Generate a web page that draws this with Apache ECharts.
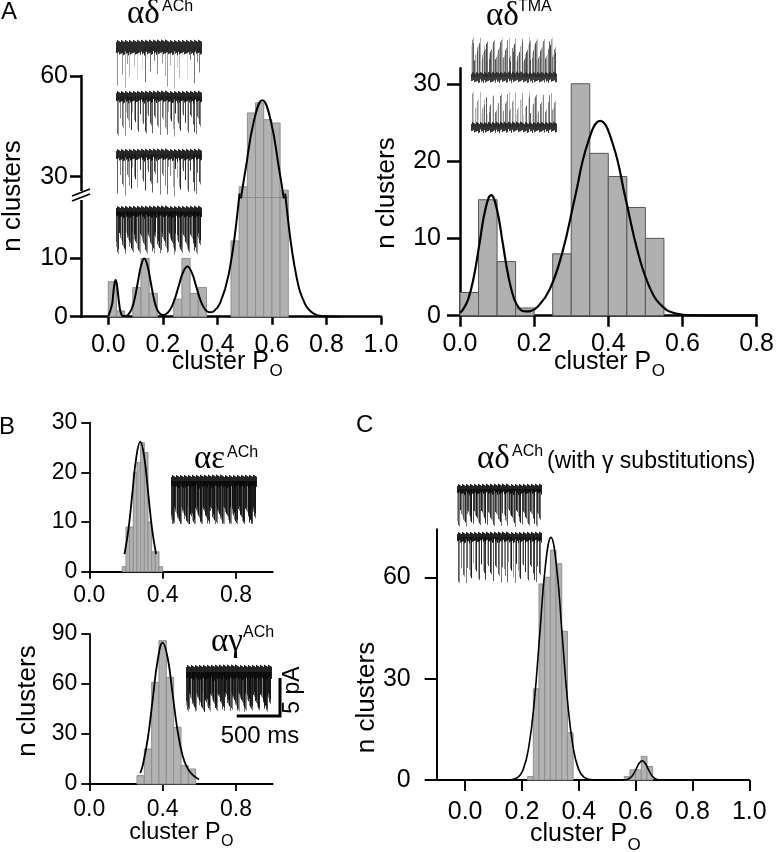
<!DOCTYPE html>
<html><head><meta charset="utf-8">
<script src="https://cdn.jsdelivr.net/npm/echarts@6/dist/echarts.min.js"></script>
<style>html,body{margin:0;padding:0;background:#fff}#c{width:777px;height:852px}</style>
</head><body><div id="c"></div>
<script>
// ===================== DATA =====================
// Panel A left: alpha-delta, ACh (bin width 0.03)
const aLeftBinStarts = [0.00,0.03,0.09,0.12,0.15,0.24,0.27,0.30,0.33,0.45,0.48,0.51,0.54,0.57,0.60,0.63];
const aLeftCounts    = [6,1,5,10,4,3,10,4,5,13,27,49,52,47,46,26];
const aLeftBinWidth  = 0.03;
const aLeftFitX = [0.000,0.0135,0.018,0.0225,0.027,0.0315,0.036,0.0405,0.045,0.054,0.063,0.0745,0.086,0.0975,0.109,0.1205,0.132,0.1435,0.155,0.1665,0.178,0.1895,0.201,0.21,0.226,0.242,0.258,0.274,0.29,0.306,0.322,0.338,0.354,0.372,0.386,0.41,0.441,0.472,0.503,0.534,0.565,0.596,0.627,0.658,0.689,0.72,0.751,0.79,0.85];
const aLeftFitY = [0.07,2.05,3.82,5.56,6.3,5.56,3.82,2.05,0.85,0.12,0.12,0.44,1.35,3.25,6.07,8.83,10.0,8.83,6.07,3.25,1.35,0.5,0.29,0.41,1.16,2.79,5.22,7.59,8.6,7.59,5.25,2.85,1.32,0.75,0.9,2.32,7.14,17.14,32.0,46.6,52.8,46.6,32.0,17.14,7.14,2.32,0.59,0.07,0];
const aLeftXTicks = [0.0,0.2,0.4,0.6,0.8,1.0];
const aLeftYTicksLow = [0,10];
const aLeftYTicksHigh = [30,60];

// Panel A right: alpha-delta, TMA (bin width 0.05)
const aRightBinStarts = [0.00,0.05,0.10,0.15,0.20,0.25,0.30,0.35,0.40,0.45,0.50];
const aRightCounts    = [3,15,7,1,0,8,30,21,18,14,10];
const aRightBinWidth  = 0.05;
const aRightFitX = [0.000,0.0065,0.022,0.0375,0.053,0.0685,0.084,0.0995,0.115,0.1305,0.146,0.1615,0.177,0.19,0.21,0.242,0.276,0.31,0.344,0.378,0.412,0.446,0.48,0.514,0.548,0.582,0.63,0.7,0.8];
const aRightFitY = [0.40,0.68,2.11,5.07,9.46,13.77,15.6,13.77,9.47,5.10,2.19,0.84,0.55,0.60,1.19,3.41,8.18,15.28,22.24,25.2,22.24,15.28,8.18,3.41,1.11,0.28,0.03,0,0];
const aRightXTicks = [0.0,0.2,0.4,0.6,0.8];
const aRightYTicks = [0,10,20,30];

// Panel B top: alpha-epsilon, ACh (bin width 0.02)
const bTopBinStarts = [0.18,0.20,0.22,0.24,0.26,0.28,0.30,0.32,0.34,0.36,0.38];
const bTopCounts    = [1,9,9,20,22,26,24,10,4,4,1];
const bTopBinWidth  = 0.02;
const bTopFitX = [0.192,0.2135,0.235,0.2565,0.278,0.2995,0.321,0.3425,0.364];
const bTopFitY = [3.55,8.51,15.89,23.12,26.2,23.12,15.89,8.51,3.55];
const bXTicks = [0.0,0.4,0.8];
const bTopYTicks = [0,10,20,30];

// Panel B bottom: alpha-gamma, ACh (bin width 0.04)
const bBotBinStarts = [0.26,0.30,0.34,0.38,0.42,0.46,0.50,0.54];
const bBotCounts    = [5,21,61,86,64,34,11,9];
const bBotBinWidth  = 0.04;
const bBotFitX = [0.278,0.292,0.319,0.346,0.373,0.400,0.427,0.454,0.481,0.508,0.535,0.562,0.580,0.598];
const bBotFitY = [6.6,11.4,27.3,51.0,74.4,84.8,75.9,54.2,32.2,17.3,9.5,5.6,4.0,2.7];
const bBotYTicks = [0,30,60,90];

// Panel C: alpha-delta ACh with gamma substitutions (bin width 0.02)
const cBinStarts = [0.22,0.24,0.26,0.28,0.30,0.32,0.34,0.36, 0.56,0.58,0.60,0.62,0.64];
const cCounts    = [1,27,58,60,68,64,44,14, 1,3,3,7,4];
const cBinWidth  = 0.02;
const cFitX = [0.10,0.15,0.185,0.2045,0.224,0.2435,0.263,0.2825,0.302,0.3215,0.341,0.3605,0.38,0.3995,0.419,0.45,0.52,0.56,0.573,0.583,0.593,0.603,0.613,0.623,0.633,0.643,0.653,0.663,0.673,0.686,0.75,0.8];
const cFitY = [0,0.04,0.8,3.15,9.71,23.3,43.5,63.4,71.8,63.4,43.5,23.3,9.71,3.15,0.8,0.05,0,0.04,0.25,0.77,1.85,3.46,5.03,5.7,5.03,3.46,1.85,0.77,0.25,0.04,0,0];
const cXTicks = [0.0,0.2,0.4,0.6,0.8,1.0];
const cYTicks = [0,30,60];

// ===================== RENDER =====================
const FONT = '"Liberation Sans", Arial, Helvetica, sans-serif';
const SERIF = '"Liberation Serif", "DejaVu Serif", "Times New Roman", serif';
const chart = echarts.init(document.getElementById('c'), null, {renderer:'canvas'});

const pairs = (xs, ys) => xs.map((x,i)=>[x, ys[i]]);
const fmt1 = v => Number(v).toFixed(1);

function xAxis(gi, min, max, ticks, lw, tl, fs, margin, show=true) {
  return {type:'value', gridIndex:gi, min, max, show,
    axisLine:{show:true, onZero:false, lineStyle:{color:'#000', width:lw}},
    axisTick:{show:true, inside:false, length:tl, customValues:ticks, lineStyle:{color:'#000', width:lw}},
    axisLabel:{show:true, customValues:ticks, formatter:fmt1, color:'#000', fontSize:fs, fontFamily:FONT, margin},
    splitLine:{show:false}};
}
function yAxis(gi, min, max, ticks, lw, tl, fs, margin) {
  return {type:'value', gridIndex:gi, min, max,
    axisLine:{show:true, onZero:false, lineStyle:{color:'#000', width:lw}},
    axisTick:{show:true, inside:false, length:tl, customValues:ticks, lineStyle:{color:'#000', width:lw}},
    axisLabel:{show:true, customValues:ticks, formatter:v=>String(Math.round(v)), color:'#000', fontSize:fs, fontFamily:FONT, margin},
    splitLine:{show:false}};
}
function hist(ai, starts, counts, w, yMin, yMax, fill, stroke) {
  return {type:'custom', xAxisIndex:ai, yAxisIndex:ai, z:2, silent:true,
    data: starts.map((s,i)=>[s, counts[i]]),
    renderItem: function(params, api) {
      const x0 = api.value(0), v = api.value(1);
      const top = Math.min(v, yMax);
      if (top <= yMin) return null;
      const p0 = api.coord([x0, yMin]);
      const p1 = api.coord([x0 + w, top]);
      return {type:'rect', shape:{x:p0[0], y:p1[1], width:p1[0]-p0[0], height:p0[1]-p1[1]},
        style:{fill, stroke, lineWidth:1}};
    }};
}
function fit(ai, xs, ys, lw) {
  return {type:'line', xAxisIndex:ai, yAxisIndex:ai, data:pairs(xs, ys), smooth:0.45,
    symbol:'none', clip:true, z:5, silent:true, lineStyle:{color:'#000', width:lw}};
}

// decorative single-channel current trace insets
function trace(w, h, o) {
  const c = document.createElement('canvas'); c.width = w; c.height = h;
  const g = c.getContext('2d');
  const bandTop = o.up ? h - o.band - 2 : 2;
  const mid = bandTop + o.band/2;
  for (let i = 0; i < o.n; i++) {
    const fx = (i*0.61803398875 + 0.13) % 1;
    const fl = (i*0.41421356237 + 0.27) % 1;
    const fa = (i*0.7548776662 + 0.5) % 1;
    const x = Math.floor(fx*(w-1)) + 0.5;
    const len = o.minLen + fl*(o.maxLen - o.minLen);
    g.strokeStyle = 'rgba(' + o.col + ',' + o.col + ',' + o.col + ',' + (o.aMin + fa*(1-o.aMin)) + ')';
    g.lineWidth = o.lw || 1;
    g.beginPath();
    g.moveTo(x, mid);
    g.lineTo(x, o.up ? mid - len : mid + len);
    g.stroke();
  }
  for (let x = 0; x < w; x++) {
    const j = (x*0.7548776662) % 1, k = (x*0.5698402910) % 1;
    g.fillStyle = 'rgba(' + o.bcol + ',' + o.bcol + ',' + o.bcol + ',0.9)';
    g.fillRect(x, bandTop + 1 - j*2.5, 1, o.band - 1 + k*3);
  }
  return c;
}
function img(canvas, x, y) {
  return {type:'image', z:10, style:{image:canvas, x, y, width:canvas.width, height:canvas.height}};
}
function T(x, y, text, size, o={}) {
  return {type:'text', x, y, rotation:o.rot||0, z:20, silent:true,
    style:{x:0, y:0, text, fontSize:size, fontFamily:o.family||FONT, fill:'#000',
      align:o.align||'left', verticalAlign:'middle', textAlign:o.align||'left', textVerticalAlign:'middle'}};
}

const BARF = '#b2b2b2', BARS = '#8e8e8e';
const A_LOW_MAX = 20.96, A_HIGH_MIN = 23.81;

const option = {
  animation:false,
  backgroundColor:'#fff',
  grid:[
    {left:81, top:194.5, width:300, height:122.2},
    {left:81, top:76, width:300, height:121.5},
    {left:460, top:68.3, width:303.3, height:247.4},
    {left:89.3, top:422.7, width:183.4, height:149},
    {left:89.3, top:634, width:183.4, height:150},
    {left:436.7, top:529.3, width:312.6, height:250.7}
  ],
  xAxis:[
    xAxis(0, -0.1, 1.0, aLeftXTicks, 2.5, 8, 25, 16),
    xAxis(1, -0.1, 1.0, aLeftXTicks, 2.5, 8, 25, 16, false),
    xAxis(2, 0, 0.8, aRightXTicks, 2.5, 11, 25, 16),
    xAxis(3, 0, 1.0, bXTicks, 1.8, 7, 23, 12),
    xAxis(4, 0, 1.0, bXTicks, 1.8, 7, 23, 14),
    xAxis(5, -0.1, 1.0, cXTicks, 2, 11, 25, 20)
  ],
  yAxis:[
    yAxis(0, 0, A_LOW_MAX, aLeftYTicksLow, 2.5, 11, 25, 13),
    yAxis(1, A_HIGH_MIN, 60, aLeftYTicksHigh, 2.5, 11, 25, 13),
    yAxis(2, 0, 32, aRightYTicks, 2.5, 13, 25, 19),
    yAxis(3, 0, 30, bTopYTicks, 1.8, 8, 23, 12),
    yAxis(4, 0, 90, bBotYTicks, 1.8, 8, 23, 12),
    yAxis(5, 0, 74.2, cYTicks, 2, 12, 25, 26)
  ],
  series:[
    hist(0, aLeftBinStarts, aLeftCounts, aLeftBinWidth, 0, A_LOW_MAX, BARF, BARS),
    hist(1, aLeftBinStarts, aLeftCounts, aLeftBinWidth, A_HIGH_MIN, 60, BARF, BARS),
    fit(0, aLeftFitX, aLeftFitY, 2),
    fit(1, aLeftFitX, aLeftFitY, 2),
    hist(2, aRightBinStarts, aRightCounts, aRightBinWidth, 0, 32, '#b0b0b0', '#555'),
    fit(2, aRightFitX, aRightFitY, 2.2),
    hist(3, bTopBinStarts, bTopCounts, bTopBinWidth, 0, 30, BARF, BARS),
    fit(3, bTopFitX, bTopFitY, 1.8),
    hist(4, bBotBinStarts, bBotCounts, bBotBinWidth, 0, 90, BARF, BARS),
    fit(4, bBotFitX, bBotFitY, 1.8),
    hist(5, cBinStarts, cCounts, cBinWidth, 0, 74.2, BARF, BARS),
    fit(5, cFitX, cFitY, 1.6)
  ],
  graphic:{elements:[
    // axis break on panel A left
    {type:'rect', z:30, shape:{x:74, y:191, width:14, height:9}, style:{fill:'#fff'}},
    {type:'line', z:31, shape:{x1:72, y1:196, x2:90, y2:189}, style:{stroke:'#000', lineWidth:1.8}},
    {type:'line', z:31, shape:{x1:72, y1:201, x2:90, y2:194}, style:{stroke:'#000', lineWidth:1.8}},
    // trace insets
    img(trace(86, 50, {band:12, n:26, minLen:8, maxLen:42, col:90, aMin:0.2, bcol:20}), 116, 39),
    img(trace(86, 48, {band:9, n:60, minLen:15, maxLen:40, col:40, aMin:0.3, bcol:15}), 116, 90),
    img(trace(86, 50, {band:9, n:50, minLen:12, maxLen:42, col:30, aMin:0.3, bcol:15}), 116, 148),
    img(trace(86, 50, {band:9, n:130, minLen:20, maxLen:43, col:20, aMin:0.35, bcol:10}), 116, 205),
    img(trace(86, 46, {band:8, up:true, n:110, minLen:15, maxLen:40, col:70, aMin:0.15, bcol:40}), 471, 37),
    img(trace(86, 44, {band:8, up:true, n:70, minLen:12, maxLen:36, col:90, aMin:0.15, bcol:30}), 471, 89),
    img(trace(86, 50, {band:10, n:170, minLen:25, maxLen:45, col:15, aMin:0.4, bcol:10}), 171, 474),
    img(trace(86, 48, {band:12, n:170, minLen:20, maxLen:40, col:15, aMin:0.4, bcol:10}), 186, 664),
    img(trace(85, 44, {band:8, n:90, minLen:20, maxLen:38, col:20, aMin:0.35, bcol:10}), 457, 483),
    img(trace(85, 52, {band:8, n:55, minLen:25, maxLen:47, col:25, aMin:0.35, bcol:10}), 457, 531),
    // scale bar
    {type:'polyline', z:31, shape:{points:[[280,678],[280,716],[236.7,716]]}, style:{stroke:'#000', lineWidth:3, fill:null}},
    // panel letters
    T(1, 12, 'A', 24), T(-1, 427, 'B', 24), T(356, 425, 'C', 24),
    // titles
    T(127, 14.5, 'αδ', 33, {family:SERIF}), T(162, 7, 'ACh', 16),
    T(486, 16, 'αδ', 33, {family:SERIF}), T(518, 6.7, 'TMA', 16),
    T(194, 459.5, 'αε', 33, {family:SERIF}), T(227, 453, 'ACh', 16),
    T(211, 642.5, 'αγ', 33, {family:SERIF}), T(243, 633, 'ACh', 16),
    T(477, 459.5, 'αδ', 33, {family:SERIF}), T(512, 452, 'ACh', 16),
    T(547, 462, '(with γ substitutions)', 23),
    // axis titles
    T(171.7, 362, 'cluster P', 25), T(269.5, 371.5, 'O', 17),
    T(554, 362, 'cluster P', 25), T(651.8, 371.5, 'O', 17),
    T(129.3, 832.5, 'cluster P', 23.5), T(221, 842, 'O', 16),
    T(530, 834.5, 'cluster P', 25), T(627.5, 845, 'O', 17),
    T(13, 196, 'n clusters', 26, {rot:Math.PI/2, align:'center'}),
    T(387, 193, 'n clusters', 26, {rot:Math.PI/2, align:'center'}),
    T(27.5, 701, 'n clusters', 26, {rot:Math.PI/2, align:'center'}),
    T(366.5, 697.5, 'n clusters', 26, {rot:Math.PI/2, align:'center'}),
    T(293, 690, '5 pA', 23, {rot:Math.PI/2, align:'center'}),
    T(260, 736.5, '500 ms', 24, {align:'center'})
  ]}
};
chart.setOption(option);
</script>
</body></html>
